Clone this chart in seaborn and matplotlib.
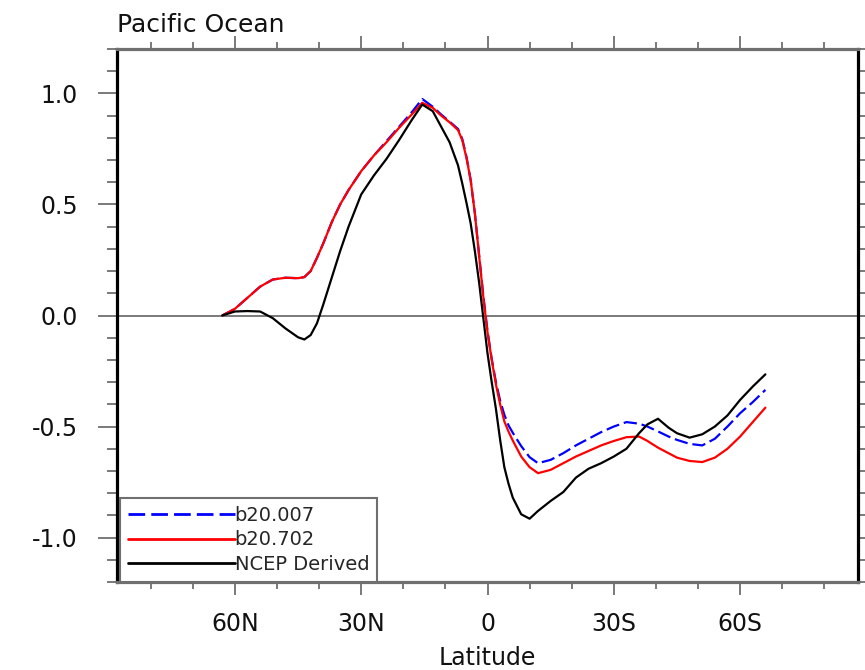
import matplotlib
matplotlib.use("Agg")
import matplotlib.pyplot as plt
from matplotlib.ticker import FixedLocator, MultipleLocator
import pandas as pd
import seaborn as sns

# Zonal-mean profile across latitude (positive = north)
lat = [63, 60, 57, 54, 51, 48, 45, 43.5, 42, 40.5,
       39, 37, 35, 33, 30, 27, 24, 21, 18, 15.5,
       13, 11, 9, 7, 6, 5, 4, 3, 2, 1,
       0, -1, -2, -3, -4, -5, -6, -8, -10, -12,
       -15, -18, -21, -24, -27, -30, -33, -36, -38, -40.5,
       -43, -45, -48, -51, -54, -57, -60, -63, -66]

b20_007 = [0.0, 0.03, 0.08, 0.13, 0.162, 0.17, 0.168, 0.173, 0.20, 0.26,
           0.325, 0.42, 0.50, 0.565, 0.65, 0.72, 0.785, 0.85, 0.915, 0.975,
           0.94, 0.905, 0.873, 0.84, 0.795, 0.715, 0.61, 0.46, 0.274, 0.09,
           -0.07, -0.195, -0.30, -0.383, -0.447, -0.495, -0.528, -0.588, -0.638, -0.665,
           -0.65, -0.62, -0.585, -0.555, -0.525, -0.50, -0.48, -0.487, -0.50, -0.522,
           -0.545, -0.56, -0.578, -0.585, -0.555, -0.50, -0.44, -0.39, -0.335]

b20_702 = [0.0, 0.03, 0.08, 0.13, 0.162, 0.17, 0.168, 0.173, 0.20, 0.26,
           0.325, 0.42, 0.50, 0.565, 0.65, 0.72, 0.78, 0.845, 0.905, 0.958,
           0.935, 0.90, 0.87, 0.835, 0.79, 0.71, 0.61, 0.46, 0.27, 0.085,
           -0.075, -0.20, -0.31, -0.40, -0.477, -0.523, -0.563, -0.635, -0.683, -0.71,
           -0.695, -0.665, -0.635, -0.61, -0.585, -0.565, -0.548, -0.545, -0.565, -0.595,
           -0.62, -0.64, -0.655, -0.66, -0.64, -0.60, -0.545, -0.48, -0.415]

ncep = [0.0, 0.018, 0.02, 0.018, -0.012, -0.058, -0.098, -0.108, -0.088, -0.035,
        0.05, 0.17, 0.29, 0.40, 0.545, 0.63, 0.705, 0.79, 0.88, 0.95,
        0.92, 0.85, 0.78, 0.676, 0.595, 0.508, 0.415, 0.29, 0.15, -0.01,
        -0.17, -0.30, -0.42, -0.56, -0.683, -0.758, -0.82, -0.895, -0.915, -0.88,
        -0.835, -0.795, -0.73, -0.69, -0.665, -0.635, -0.60, -0.53, -0.49, -0.465,
        -0.505, -0.53, -0.55, -0.535, -0.50, -0.45, -0.38, -0.32, -0.265]

series_names = ["b20.007", "b20.702", "NCEP Derived"]
series_colors = ["#0000ff", "#ff0000", "#000000"]

x_ticks = [60, 30, 0, -30, -60]
x_ticklabels = ["60N", "30N", "0", "30S", "60S"]
y_ticks = [-1.0, -0.5, 0.0, 0.5, 1.0]
y_ticklabels = ["-1.0", "-0.5", "0.0", "0.5", "1.0"]

df = pd.DataFrame({"lat": lat, series_names[0]: b20_007,
                   series_names[1]: b20_702, series_names[2]: ncep})
long_df = df.melt(id_vars="lat", var_name="run", value_name="value")

sns.set_theme(style="white")
plt.rcParams["font.family"] = ["DejaVu Sans"]

fig = plt.figure(figsize=(8.65, 6.70), dpi=100)
ax = fig.add_axes([117 / 865, 1 - 582 / 670, (858 - 117) / 865, (582 - 49) / 670])

ax.axhline(0.0, color="#6f6f6f", lw=1.3, zorder=1)

sns.lineplot(data=long_df, x="lat", y="value", hue="run", style="run",
             hue_order=series_names, style_order=series_names,
             palette=dict(zip(series_names, series_colors)),
             dashes={series_names[0]: (6, 2.2), series_names[1]: "",
                     series_names[2]: ""},
             linewidth=1.6, sort=False, estimator=None, ax=ax, zorder=3)

ax.set_xlim(88, -88)
ax.set_ylim(-1.2, 1.2)

ax.xaxis.set_major_locator(FixedLocator(x_ticks))
ax.set_xticklabels(x_ticklabels)
ax.xaxis.set_minor_locator(MultipleLocator(10))
ax.yaxis.set_major_locator(FixedLocator(y_ticks))
ax.set_yticklabels(y_ticklabels)
ax.yaxis.set_minor_locator(MultipleLocator(0.1))

tick_gray = "#6f6f6f"
ax.tick_params(axis="both", which="both", direction="out", color=tick_gray,
               width=1.3, labelsize=17, labelcolor="#111111")
ax.tick_params(axis="x", which="both", top=True, bottom=True)
ax.tick_params(axis="y", which="both", left=True, right=True)
ax.tick_params(axis="x", which="major", length=9.5, pad=12)
ax.tick_params(axis="x", which="minor", length=5)
ax.tick_params(axis="y", which="major", length=14, pad=14)
ax.tick_params(axis="y", which="minor", length=7)

for side in ("left", "right"):
    ax.spines[side].set_color("black")
    ax.spines[side].set_linewidth(2.3)
for side in ("top", "bottom"):
    ax.spines[side].set_color(tick_gray)
    ax.spines[side].set_linewidth(2.3)

ax.set_xlabel("Latitude", fontsize=17, labelpad=7, color="#111111")
ax.set_ylabel("")
ax.set_title("Pacific Ocean", loc="left", fontsize=18, pad=12,
             color="#111111")

leg = ax.legend(loc="lower left", bbox_to_anchor=(3 / 741, 0.0),
                borderaxespad=0.0, fontsize=14, handlelength=5.5,
                handletextpad=0.0, labelspacing=0.3, borderpad=0.4,
                frameon=True, fancybox=False, title=None)
leg.get_frame().set_edgecolor(tick_gray)
leg.get_frame().set_linewidth(1.5)
leg.get_frame().set_alpha(1.0)
for line in leg.get_lines():
    line.set_linewidth(2.0)

fig.savefig("out.png", dpi=100)
